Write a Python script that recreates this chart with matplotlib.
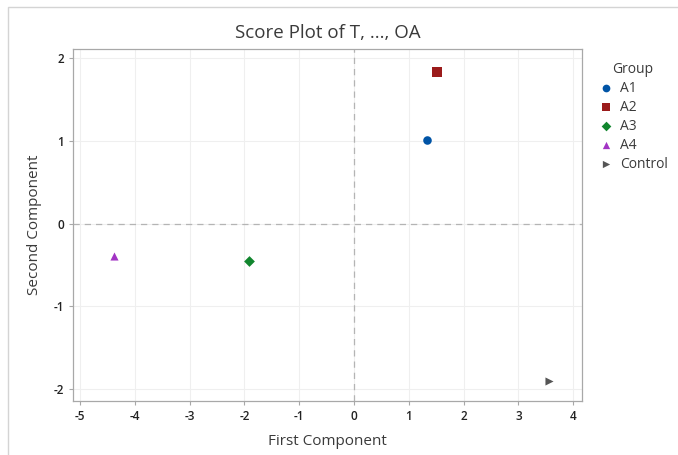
import matplotlib.pyplot as plt
from matplotlib.patches import Rectangle

plt.rcParams['font.family'] = ['Open Sans', 'DejaVu Sans']
plt.rcParams['axes.unicode_minus'] = False

# score values
groups = ['A1', 'A2', 'A3', 'A4', 'Control']
first_comp = [1.33, 1.51, -1.92, -4.38, 3.56]
second_comp = [1.01, 1.83, -0.45, -0.39, -1.90]
markers = ['o', 's', 'D', '^', '>']
colors = ['#0054a6', '#9b1b1b', '#11862e', '#a234c4', '#555555']
sizes = [38, 42, 30, 34, 34]

xticks = [-5, -4, -3, -2, -1, 0, 1, 2, 3, 4]
yticks = [-2, -1, 0, 1, 2]

txt = '#3a3a3a'
fig = plt.figure(figsize=(6.78, 4.55), dpi=100)
# light frame around the whole graph
fig.patches.append(Rectangle((8 / 678, -0.01), 1.1, (455 - 7) / 455 + 0.01,
                             transform=fig.transFigure, fill=False,
                             edgecolor='#d4d4d4', linewidth=1))

ax = fig.add_axes([73 / 678, 1 - 401 / 455, (582 - 73) / 678, (401 - 49) / 455])

for g, x, y, m, c, s in zip(groups, first_comp, second_comp, markers, colors, sizes):
    ax.scatter(x, y, marker=m, color=c, s=s, label=g, zorder=3, linewidths=0)

ax.axhline(0, color='#b4b4b4', linestyle=(0, (5, 4)), linewidth=0.9, zorder=2)
ax.axvline(0, color='#b4b4b4', linestyle=(0, (5, 4)), linewidth=0.9, zorder=2)

ax.set_xlim(-5.13, 4.16)
ax.set_ylim(-2.145, 2.11)
ax.set_xticks(xticks)
ax.set_yticks(yticks)
ax.grid(True, color='#efefef', linewidth=0.8, zorder=0)
ax.set_axisbelow(True)

for sp in ax.spines.values():
    sp.set_color('#a8a8a8')
    sp.set_linewidth(0.9)
ax.tick_params(colors='#a8a8a8', labelcolor='#222222', labelsize=8.5, length=3)
for lab in ax.get_xticklabels() + ax.get_yticklabels():
    lab.set_fontweight('semibold')

ax.set_title('Score Plot of T, ..., OA', fontsize=13.5, color=txt, pad=8)
ax.set_xlabel('First Component', fontsize=11, color=txt, labelpad=8)
ax.set_ylabel('Second Component', fontsize=11, color=txt, labelpad=8)

leg = ax.legend(title='Group', loc='upper left', bbox_to_anchor=(1.005, 1.0),
                frameon=False, fontsize=10, title_fontsize=10,
                handletextpad=0.4, labelspacing=0.28, borderpad=0.45,
                handlelength=1.2, markerscale=0.9)
for t in leg.get_texts():
    t.set_color(txt)
leg.get_title().set_color(txt)

fig.savefig('out.png', dpi=100)
